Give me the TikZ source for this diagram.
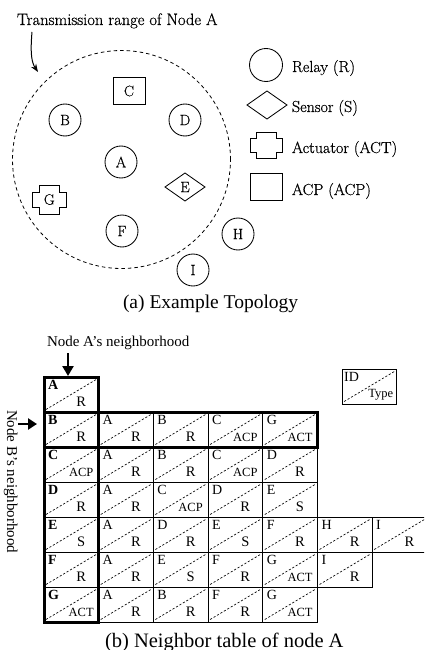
\documentclass[tikz,border=0pt]{standalone}
\usepackage{fontspec}
\newfontfamily\tnr{Liberation Serif}
\newfontfamily\cent{Latin Modern Roman}[FakeBold=0.5]
\usetikzlibrary{shapes.geometric,arrows.meta}
\newcommand\tcell[6]{%
  \node[cellbox] (cell-#1-#2) at ({44+54.7*#2+27.35},{377+35*#1+17.5}) {};
  \draw[diag] ([shift={(2,-2.5)}]cell-#1-#2.south west) -- ([shift={(-2.5,2.5)}]cell-#1-#2.north east);
  \node[#5] (id-#1-#2) at ([shift={(4,12)}]cell-#1-#2.north west) {#3};
  \node[#6] (ty-#1-#2) at ([shift={(-17.5,-6)}]cell-#1-#2.south east) {#4};
}
\newcommand\actcross[5]{% node, half w, half h, bar half w, bar half h
  \draw[topline,shift={(#1.center)}] (-#4,-#3) -- (#4,-#3) -- (#4,-#5) -- (#2,-#5) -- (#2,#5) -- (#4,#5)
    -- (#4,#3) -- (-#4,#3) -- (-#4,#5) -- (-#2,#5) -- (-#2,-#5) -- (-#4,-#5) -- cycle;
}
\begin{document}
\begin{tikzpicture}[x=1pt,y=-1pt,
  every node/.style={inner sep=0pt, outer sep=0pt},
  topline/.style={line width=0.85pt},
  topnode/.style={draw, topline, font=\cent\fontsize{15}{18}\selectfont},
  relay/.style={topnode, circle, minimum size=32pt},
  sensor/.style={topnode, diamond, minimum width=40pt, minimum height=28pt, aspect=1.4},
  acp/.style={topnode, rectangle, minimum width=32pt, minimum height=27pt},
  legtext/.style={anchor=base west, font=\cent\fontsize{16}{19}\selectfont},
  cellbox/.style={draw, line width=0.9pt, minimum width=54.7pt, minimum height=35pt},
  diag/.style={dash pattern=on 2.2pt off 1.8pt, line width=0.65pt},
  idr/.style={anchor=base west, font=\tnr\fontsize{14}{16}\selectfont},
  idb/.style={anchor=base west, font=\tnr\bfseries\fontsize{14}{16}\selectfont},
  tr/.style={anchor=base, font=\tnr\fontsize{14.5}{16}\selectfont},
  ts/.style={anchor=base, font=\tnr\fontsize{12.5}{14}\selectfont},
  thickb/.style={line width=3pt},
  caption/.style={anchor=base west, font=\tnr\fontsize{20}{24}\selectfont},
]
\useasboundingbox (0,0) rectangle (424,650);
\clip (0,0) rectangle (424,650);

% ---------- (a) topology ----------
\node[anchor=base west, font=\cent\fontsize{16.5}{20}\selectfont] (trtext) at (17,25) {Transmission range of Node A};
\coordinate (arrS) at (32,32);
\coordinate (arrE) at (38,72);
\draw[line width=1pt, -{Stealth[length=8pt,width=6pt]}] (arrS) .. controls (30,55) and (32,63) .. (arrE);

\node[draw, circle, dash pattern=on 3.5pt off 3pt, line width=0.8pt, minimum size=218pt] (range) at (121.5,159.5) {};

\node[acp] (C) at (129,91) {C};
\node[relay] (B) at (65,120) {B};
\node[relay] (D) at (185,120) {D};
\node[relay] (A) at (121,162) {A};
\node[sensor] (E) at (185,187) {E};
\node[font=\cent\fontsize{15}{18}\selectfont] (G) at (49.3,199.5) {G};
\actcross{G}{17}{14.5}{10}{7.5}
\node[relay] (F) at (122,231) {F};
\node[relay] (H) at (238,234) {H};
\node[relay] (I) at (193,270) {I};

% legend
\node[relay, minimum size=33pt] (lR) at (266,65) {};
\node[legtext] (lRt) at (292,72) {Relay (R)};
\node[sensor] (lS) at (267,105) {};
\node[legtext] (lSt) at (292,112) {Sensor (S)};
\node (lACT) at (266,145) {};
\actcross{lACT}{16}{13}{10}{7}
\node[legtext] (lACTt) at (292,153) {Actuator (ACT)};
\node[acp] (lACP) at (266,186.5) {};
\node[legtext] (lACPt) at (292,195) {ACP (ACP)};

\node[caption, font=\tnr\fontsize{19.5}{23}\selectfont] (capa) at (123,308) {(a) Example Topology};

% ---------- (b) neighbor table ----------
\node[anchor=base west, font=\tnr\fontsize{15}{18}\selectfont] (nbA) at (47,346) {Node A’s neighborhood};
\coordinate (nbAe) at (68,376);
\draw[line width=2.6pt, -{Triangle[length=10pt,width=11pt]}] ([yshift=-4pt]nbA.south -| nbAe) -- (nbAe);

\node[rotate=-90, anchor=base west, font=\tnr\fontsize{15}{18}\selectfont] (nbB) at (7,410) {Node B’s neighborhood};
\coordinate (nbBs) at (18,424);
\coordinate (nbBe) at (37,424);
\draw[line width=2.6pt, -{Triangle[length=9pt,width=11pt]}] (nbBs) -- (nbBe);

% legend cell
\node[cellbox] (key) at (369.5,386.5) {};
\draw[diag] ([shift={(2,-2.5)}]key.south west) -- ([shift={(-2.5,2.5)}]key.north east);
\node[idr] (keyid) at ([shift={(2,12)}]key.north west) {ID};
\node[ts] (keyty) at ([shift={(-16,-7)}]key.south east) {Type};

% rows
\tcell{0}{0}{A}{R}{idb}{tr}

\tcell{1}{0}{B}{R}{idb}{tr}
\tcell{1}{1}{A}{R}{idr}{tr}
\tcell{1}{2}{B}{R}{idr}{tr}
\tcell{1}{3}{C}{ACP}{idr}{ts}
\tcell{1}{4}{G}{ACT}{idr}{ts}

\tcell{2}{0}{C}{ACP}{idb}{ts}
\tcell{2}{1}{A}{R}{idr}{tr}
\tcell{2}{2}{B}{R}{idr}{tr}
\tcell{2}{3}{C}{ACP}{idr}{ts}
\tcell{2}{4}{D}{R}{idr}{tr}

\tcell{3}{0}{D}{R}{idb}{tr}
\tcell{3}{1}{A}{R}{idr}{tr}
\tcell{3}{2}{C}{ACP}{idr}{ts}
\tcell{3}{3}{D}{R}{idr}{tr}
\tcell{3}{4}{E}{S}{idr}{tr}

\tcell{4}{0}{E}{S}{idb}{tr}
\tcell{4}{1}{A}{R}{idr}{tr}
\tcell{4}{2}{D}{R}{idr}{tr}
\tcell{4}{3}{E}{S}{idr}{tr}
\tcell{4}{4}{F}{R}{idr}{tr}
\tcell{4}{5}{H}{R}{idr}{tr}
\tcell{4}{6}{I}{R}{idr}{tr}

\tcell{5}{0}{F}{R}{idb}{tr}
\tcell{5}{1}{A}{R}{idr}{tr}
\tcell{5}{2}{E}{S}{idr}{tr}
\tcell{5}{3}{F}{R}{idr}{tr}
\tcell{5}{4}{G}{ACT}{idr}{ts}
\tcell{5}{5}{I}{R}{idr}{tr}

\tcell{6}{0}{G}{ACT}{idb}{ts}
\tcell{6}{1}{A}{R}{idr}{tr}
\tcell{6}{2}{B}{R}{idr}{tr}
\tcell{6}{3}{F}{R}{idr}{tr}
\tcell{6}{4}{G}{ACT}{idr}{ts}

\draw[thickb] (cell-0-0.north west) rectangle (cell-6-0.south east);
\draw[thickb] (cell-1-0.north west) rectangle (cell-1-4.south east);

\node[caption, font=\tnr\fontsize{20.5}{24}\selectfont] (capb) at (105,647) {(b) Neighbor table of node A};
\end{tikzpicture}
\end{document}
